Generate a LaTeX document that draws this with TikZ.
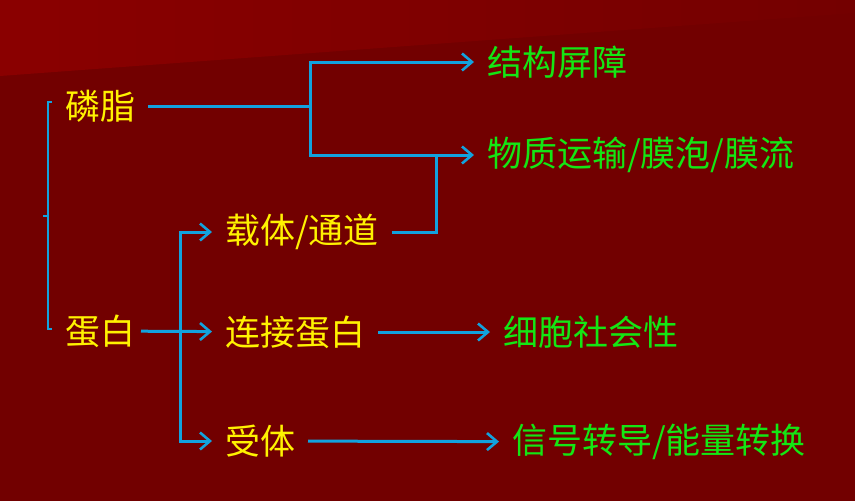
\documentclass[tikz,border=0pt]{standalone}
\usepackage{fontspec}
\newfontfamily\cjk{Noto Sans CJK SC}
\usetikzlibrary{arrows.meta,calc}
\definecolor{bgred}{HTML}{720000}
\definecolor{bgtopL}{HTML}{8A0000}
\definecolor{bgtopR}{HTML}{740000}
\definecolor{linkblue}{HTML}{12A2DE}
\definecolor{termyellow}{HTML}{FFF200}
\definecolor{resgreen}{HTML}{14E614}
\tikzset{
  term/.style={anchor=west, inner sep=0pt, outer xsep=13pt, outer ysep=0pt,
    xshift=-13pt, text=termyellow, font=\cjk\fontsize{35}{35}\selectfont},
  result/.style={term, text=resgreen},
  link/.style={draw=linkblue, line width=3pt},
  arrow/.style={link, -{Straight Barb[length=10pt,width=17pt,line width=2.6pt]}}
}
\begin{document}
\begin{tikzpicture}[x=1pt,y=-1pt]
  % background with lighter band at the top left
  \fill[bgred] (0,0) rectangle (855,501);
  \shade[left color=bgtopL, right color=bgtopR] (0,0) -- (855,0) -- (855,13) -- (0,76) -- cycle;
  \useasboundingbox (0,0) rectangle (855,501);

  % terms
  \node[term] (linzhi) at (65,106) {磷脂};
  \node[term, outer xsep=6pt, xshift=7pt] (danbai) at (65,331) {蛋白};
  \node[term] (zaiti) at (225,232) {载体/通道};
  \node[term] (lianjie) at (225,332) {连接蛋白};
  \node[term] (shouti) at (225,441) {受体};

  % functions
  \node[result] (jiegou) at (487,62) {结构屏障};
  \node[result] (wuzhi) at (487,155) {物质运输/膜泡/膜流};
  \node[result] (shehui) at (503,332) {细胞社会性};
  \node[result] (xinhao) at (512,442) {信号转导/能量转换};

  % left bracket grouping the two components
  \draw[link, line width=2.6pt] (52,102) -- (48,102) -- (48,329) -- (52,329);
  \draw[link, line width=2.6pt] (48,216) -- (43,216);

  % phospholipid branch
  \coordinate (j1) at (310,0);
  \draw[link] (linzhi) -- (j1 |- linzhi);
  \draw[arrow] (j1 |- linzhi) |- (jiegou);
  \draw[arrow] (j1 |- linzhi) |- (wuzhi);

  % carrier / channel joins the transport arrow
  \coordinate (j2) at (436,0);
  \draw[link] (zaiti) -- (j2 |- zaiti) -- (j2 |- wuzhi);

  % protein branch
  \coordinate (bus) at (180,0);
  \draw[arrow] (danbai) -- (lianjie);
  \draw[arrow] (bus |- lianjie) |- (zaiti);
  \draw[arrow] (bus |- lianjie) |- (shouti);

  % protein functions
  \draw[arrow] (lianjie) -- (shehui);
  \draw[arrow] (shouti) -- (xinhao);
\end{tikzpicture}
\end{document}
